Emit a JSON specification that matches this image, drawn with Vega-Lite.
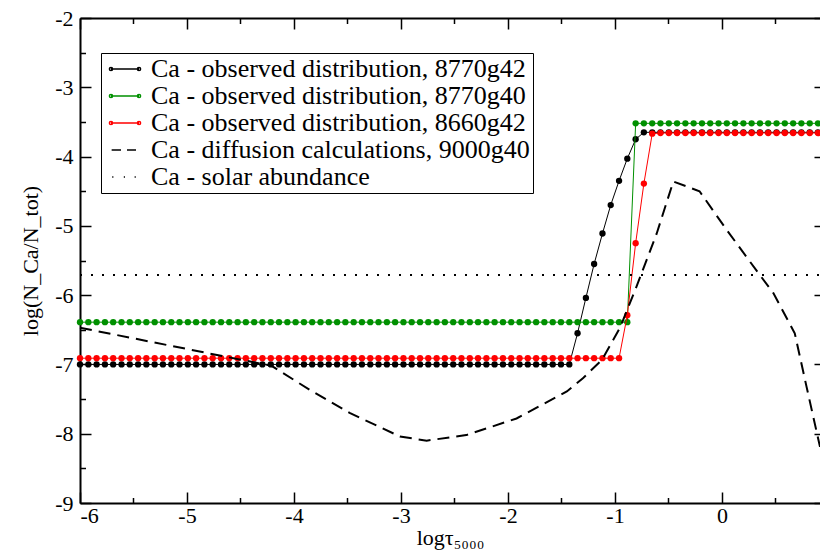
{
  "$schema": "https://vega.github.io/schema/vega-lite/v6.json",
  "width": 740,
  "height": 485,
  "autosize": {"type": "none"},
  "padding": {"left": 80, "top": 18, "right": 0, "bottom": 49},
  "background": "white",
  "datasets": {
    "black": [
      {"x":-6,"y":-7},{"x":-5.922,"y":-7},{"x":-5.845,"y":-7},{"x":-5.767,"y":-7},{"x":-5.69,"y":-7},{"x":-5.612,"y":-7},{"x":-5.535,"y":-7},{"x":-5.457,"y":-7},{"x":-5.38,"y":-7},{"x":-5.302,"y":-7},
      {"x":-5.225,"y":-7},{"x":-5.147,"y":-7},{"x":-5.07,"y":-7},{"x":-4.992,"y":-7},{"x":-4.915,"y":-7},{"x":-4.837,"y":-7},{"x":-4.76,"y":-7},{"x":-4.682,"y":-7},{"x":-4.605,"y":-7},{"x":-4.527,"y":-7},
      {"x":-4.45,"y":-7},{"x":-4.372,"y":-7},{"x":-4.295,"y":-7},{"x":-4.217,"y":-7},{"x":-4.14,"y":-7},{"x":-4.062,"y":-7},{"x":-3.985,"y":-7},{"x":-3.907,"y":-7},{"x":-3.83,"y":-7},{"x":-3.752,"y":-7},
      {"x":-3.675,"y":-7},{"x":-3.597,"y":-7},{"x":-3.52,"y":-7},{"x":-3.442,"y":-7},{"x":-3.365,"y":-7},{"x":-3.287,"y":-7},{"x":-3.21,"y":-7},{"x":-3.132,"y":-7},{"x":-3.055,"y":-7},{"x":-2.977,"y":-7},
      {"x":-2.9,"y":-7},{"x":-2.822,"y":-7},{"x":-2.745,"y":-7},{"x":-2.667,"y":-7},{"x":-2.59,"y":-7},{"x":-2.512,"y":-7},{"x":-2.435,"y":-7},{"x":-2.357,"y":-7},{"x":-2.28,"y":-7},{"x":-2.202,"y":-7},
      {"x":-2.125,"y":-7},{"x":-2.047,"y":-7},{"x":-1.97,"y":-7},{"x":-1.892,"y":-7},{"x":-1.815,"y":-7},{"x":-1.737,"y":-7},{"x":-1.66,"y":-7},{"x":-1.582,"y":-7},{"x":-1.505,"y":-7},{"x":-1.427,"y":-7},
      {"x":-1.35,"y":-6.55},{"x":-1.272,"y":-6.04},{"x":-1.195,"y":-5.55},{"x":-1.117,"y":-5.11},{"x":-1.04,"y":-4.7},{"x":-0.962,"y":-4.35},{"x":-0.885,"y":-4.03},{"x":-0.807,"y":-3.75},{"x":-0.73,"y":-3.65},{"x":-0.652,"y":-3.65},
      {"x":-0.575,"y":-3.65},{"x":-0.497,"y":-3.65},{"x":-0.42,"y":-3.65},{"x":-0.342,"y":-3.65},{"x":-0.265,"y":-3.65},{"x":-0.187,"y":-3.65},{"x":-0.11,"y":-3.65},{"x":-0.032,"y":-3.65},{"x":0.045,"y":-3.65},{"x":0.122,"y":-3.65},
      {"x":0.2,"y":-3.65},{"x":0.277,"y":-3.65},{"x":0.355,"y":-3.65},{"x":0.432,"y":-3.65},{"x":0.51,"y":-3.65},{"x":0.587,"y":-3.65},{"x":0.665,"y":-3.65},{"x":0.742,"y":-3.65},{"x":0.82,"y":-3.65},{"x":0.897,"y":-3.65}
    ],
    "green": [
      {"x":-6,"y":-6.39},{"x":-5.922,"y":-6.39},{"x":-5.845,"y":-6.39},{"x":-5.767,"y":-6.39},{"x":-5.69,"y":-6.39},{"x":-5.612,"y":-6.39},{"x":-5.535,"y":-6.39},{"x":-5.457,"y":-6.39},{"x":-5.38,"y":-6.39},{"x":-5.302,"y":-6.39},
      {"x":-5.225,"y":-6.39},{"x":-5.147,"y":-6.39},{"x":-5.07,"y":-6.39},{"x":-4.992,"y":-6.39},{"x":-4.915,"y":-6.39},{"x":-4.837,"y":-6.39},{"x":-4.76,"y":-6.39},{"x":-4.682,"y":-6.39},{"x":-4.605,"y":-6.39},{"x":-4.527,"y":-6.39},
      {"x":-4.45,"y":-6.39},{"x":-4.372,"y":-6.39},{"x":-4.295,"y":-6.39},{"x":-4.217,"y":-6.39},{"x":-4.14,"y":-6.39},{"x":-4.062,"y":-6.39},{"x":-3.985,"y":-6.39},{"x":-3.907,"y":-6.39},{"x":-3.83,"y":-6.39},{"x":-3.752,"y":-6.39},
      {"x":-3.675,"y":-6.39},{"x":-3.597,"y":-6.39},{"x":-3.52,"y":-6.39},{"x":-3.442,"y":-6.39},{"x":-3.365,"y":-6.39},{"x":-3.287,"y":-6.39},{"x":-3.21,"y":-6.39},{"x":-3.132,"y":-6.39},{"x":-3.055,"y":-6.39},{"x":-2.977,"y":-6.39},
      {"x":-2.9,"y":-6.39},{"x":-2.822,"y":-6.39},{"x":-2.745,"y":-6.39},{"x":-2.667,"y":-6.39},{"x":-2.59,"y":-6.39},{"x":-2.512,"y":-6.39},{"x":-2.435,"y":-6.39},{"x":-2.357,"y":-6.39},{"x":-2.28,"y":-6.39},{"x":-2.202,"y":-6.39},
      {"x":-2.125,"y":-6.39},{"x":-2.047,"y":-6.39},{"x":-1.97,"y":-6.39},{"x":-1.892,"y":-6.39},{"x":-1.815,"y":-6.39},{"x":-1.737,"y":-6.39},{"x":-1.66,"y":-6.39},{"x":-1.582,"y":-6.39},{"x":-1.505,"y":-6.39},{"x":-1.427,"y":-6.39},
      {"x":-1.35,"y":-6.39},{"x":-1.272,"y":-6.39},{"x":-1.195,"y":-6.39},{"x":-1.117,"y":-6.39},{"x":-1.04,"y":-6.39},{"x":-0.962,"y":-6.39},{"x":-0.885,"y":-6.39},{"x":-0.807,"y":-3.52},{"x":-0.73,"y":-3.52},{"x":-0.652,"y":-3.52},
      {"x":-0.575,"y":-3.52},{"x":-0.497,"y":-3.52},{"x":-0.42,"y":-3.52},{"x":-0.342,"y":-3.52},{"x":-0.265,"y":-3.52},{"x":-0.187,"y":-3.52},{"x":-0.11,"y":-3.52},{"x":-0.032,"y":-3.52},{"x":0.045,"y":-3.52},{"x":0.122,"y":-3.52},
      {"x":0.2,"y":-3.52},{"x":0.277,"y":-3.52},{"x":0.355,"y":-3.52},{"x":0.432,"y":-3.52},{"x":0.51,"y":-3.52},{"x":0.587,"y":-3.52},{"x":0.665,"y":-3.52},{"x":0.742,"y":-3.52},{"x":0.82,"y":-3.52},{"x":0.897,"y":-3.52}
    ],
    "red": [
      {"x":-6,"y":-6.91},{"x":-5.922,"y":-6.91},{"x":-5.845,"y":-6.91},{"x":-5.767,"y":-6.91},{"x":-5.69,"y":-6.91},{"x":-5.612,"y":-6.91},{"x":-5.535,"y":-6.91},{"x":-5.457,"y":-6.91},{"x":-5.38,"y":-6.91},{"x":-5.302,"y":-6.91},
      {"x":-5.225,"y":-6.91},{"x":-5.147,"y":-6.91},{"x":-5.07,"y":-6.91},{"x":-4.992,"y":-6.91},{"x":-4.915,"y":-6.91},{"x":-4.837,"y":-6.91},{"x":-4.76,"y":-6.91},{"x":-4.682,"y":-6.91},{"x":-4.605,"y":-6.91},{"x":-4.527,"y":-6.91},
      {"x":-4.45,"y":-6.91},{"x":-4.372,"y":-6.91},{"x":-4.295,"y":-6.91},{"x":-4.217,"y":-6.91},{"x":-4.14,"y":-6.91},{"x":-4.062,"y":-6.91},{"x":-3.985,"y":-6.91},{"x":-3.907,"y":-6.91},{"x":-3.83,"y":-6.91},{"x":-3.752,"y":-6.91},
      {"x":-3.675,"y":-6.91},{"x":-3.597,"y":-6.91},{"x":-3.52,"y":-6.91},{"x":-3.442,"y":-6.91},{"x":-3.365,"y":-6.91},{"x":-3.287,"y":-6.91},{"x":-3.21,"y":-6.91},{"x":-3.132,"y":-6.91},{"x":-3.055,"y":-6.91},{"x":-2.977,"y":-6.91},
      {"x":-2.9,"y":-6.91},{"x":-2.822,"y":-6.91},{"x":-2.745,"y":-6.91},{"x":-2.667,"y":-6.91},{"x":-2.59,"y":-6.91},{"x":-2.512,"y":-6.91},{"x":-2.435,"y":-6.91},{"x":-2.357,"y":-6.91},{"x":-2.28,"y":-6.91},{"x":-2.202,"y":-6.91},
      {"x":-2.125,"y":-6.91},{"x":-2.047,"y":-6.91},{"x":-1.97,"y":-6.91},{"x":-1.892,"y":-6.91},{"x":-1.815,"y":-6.91},{"x":-1.737,"y":-6.91},{"x":-1.66,"y":-6.91},{"x":-1.582,"y":-6.91},{"x":-1.505,"y":-6.91},{"x":-1.427,"y":-6.91},
      {"x":-1.35,"y":-6.91},{"x":-1.272,"y":-6.91},{"x":-1.195,"y":-6.91},{"x":-1.117,"y":-6.91},{"x":-1.04,"y":-6.91},{"x":-0.962,"y":-6.91},{"x":-0.885,"y":-6.29},{"x":-0.807,"y":-5.25},{"x":-0.73,"y":-4.39},{"x":-0.652,"y":-3.67},
      {"x":-0.575,"y":-3.66},{"x":-0.497,"y":-3.66},{"x":-0.42,"y":-3.66},{"x":-0.342,"y":-3.66},{"x":-0.265,"y":-3.66},{"x":-0.187,"y":-3.66},{"x":-0.11,"y":-3.66},{"x":-0.032,"y":-3.66},{"x":0.045,"y":-3.66},{"x":0.122,"y":-3.66},
      {"x":0.2,"y":-3.66},{"x":0.277,"y":-3.66},{"x":0.355,"y":-3.66},{"x":0.432,"y":-3.66},{"x":0.51,"y":-3.66},{"x":0.587,"y":-3.66},{"x":0.665,"y":-3.66},{"x":0.742,"y":-3.66},{"x":0.82,"y":-3.66},{"x":0.897,"y":-3.66}
    ],
    "diffusion": [
      {"x":-6,"y":-6.47},{"x":-4.21,"y":-7.02},{"x":-3.85,"y":-7.37},{"x":-3.48,"y":-7.7},{"x":-3.01,"y":-8.04},{"x":-2.76,"y":-8.1},{"x":-2.39,"y":-8.02},{"x":-1.92,"y":-7.78},{"x":-1.45,"y":-7.39},{"x":-1.3,"y":-7.2},{"x":-1.12,"y":-6.93},{"x":-0.95,"y":-6.46},{"x":-0.8,"y":-5.88},{"x":-0.61,"y":-5.11},{"x":-0.455,"y":-4.36},{"x":-0.21,"y":-4.5},{"x":0.04,"y":-5.05},{"x":0.32,"y":-5.64},{"x":0.48,"y":-5.97},{"x":0.68,"y":-6.55},{"x":0.79,"y":-7.32},{"x":0.916,"y":-8.19}
    ],
    "solar": [{"x":-6,"y":-5.71},{"x":0.916,"y":-5.71}],
    "legend": [
      {"series":"Ca - observed distribution, 8770g42"},
      {"series":"Ca - observed distribution, 8770g40"},
      {"series":"Ca - observed distribution, 8660g42"},
      {"series":"Ca - diffusion calculations, 9000g40"},
      {"series":"Ca - solar abundance"}
    ]
  },
  "layer": [
    {
      "encoding": {
        "x": {"field": "x", "type": "quantitative", "title": "logτ₅₀₀₀",
          "scale": {"domain": [-6, 0.916], "nice": false, "zero": false},
          "axis": {"orient": "bottom", "values": [-6,-5.5,-5,-4.5,-4,-3.5,-3,-2.5,-2,-1.5,-1,-0.5,0,0.5],
            "tickSize": {"condition": {"test": "datum.value % 1 !== 0", "value": -5.5}, "value": -11},
            "labelExpr": "datum.value % 1 === 0 ? '' + datum.value : ''",
            "labelFont": "Liberation Serif", "labelFontSize": 22, "titleFont": "Liberation Serif",
            "labelPadding": 13, "titlePadding": 1}},
        "y": {"field": "y", "type": "quantitative", "title": "log(N_Ca/N_tot)",
          "scale": {"domain": [-9, -2], "nice": false, "zero": false},
          "axis": {"orient": "left", "values": [-9,-8.5,-8,-7.5,-7,-6.5,-6,-5.5,-5,-4.5,-4,-3.5,-3,-2.5,-2],
            "tickSize": {"condition": {"test": "datum.value % 1 !== 0", "value": -5.5}, "value": -11},
            "labelExpr": "datum.value % 1 === 0 ? '' + datum.value : ''",
            "labelFont": "Liberation Serif", "labelFontSize": 22, "titleFont": "Liberation Serif",
            "labelPadding": 18, "titlePadding": 12}}
      },
      "layer": [
        {"data": {"name": "black"}, "mark": {"type": "line", "color": "black", "strokeWidth": 1}},
        {"data": {"name": "black"}, "mark": {"type": "point", "filled": true, "color": "black", "size": 40, "opacity": 1}},
        {"data": {"name": "green"}, "mark": {"type": "line", "color": "#009000", "strokeWidth": 1}},
        {"data": {"name": "green"}, "mark": {"type": "point", "filled": true, "color": "#009000", "size": 40, "opacity": 1}},
        {"data": {"name": "red"}, "mark": {"type": "line", "color": "#ff0000", "strokeWidth": 1}},
        {"data": {"name": "red"}, "mark": {"type": "point", "filled": true, "color": "#ff0000", "size": 40, "opacity": 1}},
        {"data": {"name": "diffusion"}, "mark": {"type": "line", "color": "black", "strokeWidth": 2, "strokeDash": [12, 7]}},
        {"data": {"name": "solar"}, "mark": {"type": "line", "color": "black", "strokeWidth": 2, "strokeDash": [2, 9]}},
        {"data": {"name": "legend"}, "transform": [{"filter": "false"}],
          "mark": {"type": "point", "filled": false, "strokeWidth": 1.5, "opacity": 1},
          "encoding": {
            "color": {"field": "series", "type": "nominal", "title": null,
              "legend": {"labelFont": "Liberation Serif", "labelFontSize": 26},
              "scale": {"domain": ["Ca - observed distribution, 8770g42","Ca - observed distribution, 8770g40","Ca - observed distribution, 8660g42","Ca - diffusion calculations, 9000g40","Ca - solar abundance"],
                "range": ["black", "#009000", "#ff0000", "black", "black"]}},
            "shape": {"field": "series", "type": "nominal", "title": null,
              "legend": {"labelFont": "Liberation Serif", "labelFontSize": 26},
              "scale": {"domain": ["Ca - observed distribution, 8770g42","Ca - observed distribution, 8770g40","Ca - observed distribution, 8660g42","Ca - diffusion calculations, 9000g40","Ca - solar abundance"],
                "range": [
                  "M-1.75,0H1.75M-1.95,0a0.2,0.2 0 1,0 0.4,0a0.2,0.2 0 1,0 -0.4,0M1.55,0a0.2,0.2 0 1,0 0.4,0a0.2,0.2 0 1,0 -0.4,0",
                  "M-1.75,0H1.75M-1.95,0a0.2,0.2 0 1,0 0.4,0a0.2,0.2 0 1,0 -0.4,0M1.55,0a0.2,0.2 0 1,0 0.4,0a0.2,0.2 0 1,0 -0.4,0",
                  "M-1.75,0H1.75M-1.95,0a0.2,0.2 0 1,0 0.4,0a0.2,0.2 0 1,0 -0.4,0M1.55,0a0.2,0.2 0 1,0 0.4,0a0.2,0.2 0 1,0 -0.4,0",
                  "M-1.67,0H-0.5M0.25,0H1.375",
                  "M-1.6,0H-1.45M-0.15,0H0M1.2,0H1.35"
                ]}}
          }}
      ]
    },
    {
      "data": {"name": "solar"},
      "transform": [{"filter": "false"}],
      "mark": {"type": "point"},
      "encoding": {
        "x": {"field": "x", "type": "quantitative", "scale": {"domain": [-6, 0.916], "nice": false, "zero": false},
          "axis": {"orient": "top", "title": null, "labels": false, "values": [-6,-5.5,-5,-4.5,-4,-3.5,-3,-2.5,-2,-1.5,-1,-0.5,0,0.5],
            "tickSize": {"condition": {"test": "datum.value % 1 !== 0", "value": -5.5}, "value": -11}}},
        "y": {"field": "y", "type": "quantitative", "scale": {"domain": [-9, -2], "nice": false, "zero": false},
          "axis": {"orient": "right", "title": null, "labels": false, "domain": false, "offset": 5, "values": [-9,-8.5,-8,-7.5,-7,-6.5,-6,-5.5,-5,-4.5,-4,-3.5,-3,-2.5,-2],
            "tickSize": {"condition": {"test": "datum.value % 1 !== 0", "value": -5.5}, "value": -11}}}
      }
    }
  ],
  "resolve": {"axis": {"x": "independent", "y": "independent"}},
  "config": {
    "view": {"stroke": null},
    "font": "Liberation Serif",
    "style": {
      "guide-label": {"font": "Liberation Serif", "fill": "black"},
      "guide-title": {"font": "Liberation Serif", "fill": "black"}
    },
    "axis": {"domainColor": "black", "domainWidth": 2, "tickColor": "black", "tickWidth": 1.5, "grid": false,
      "labelFont": "Liberation Serif", "labelFontSize": 22, "labelColor": "black",
      "titleFont": "Liberation Serif", "titleFontSize": 22, "titleColor": "black", "titleFontWeight": "normal"},
    "legend": {"orient": "none", "legendX": 21, "legendY": 35, "strokeColor": "black", "fillColor": "white",
      "padding": 3, "labelFont": "Liberation Serif", "labelFontSize": 26, "labelColor": "black", "labelLimit": 0,
      "symbolSize": 256, "symbolStrokeWidth": 1.5, "symbolOffset": 8, "labelOffset": 13, "rowPadding": 1}
  }
}
